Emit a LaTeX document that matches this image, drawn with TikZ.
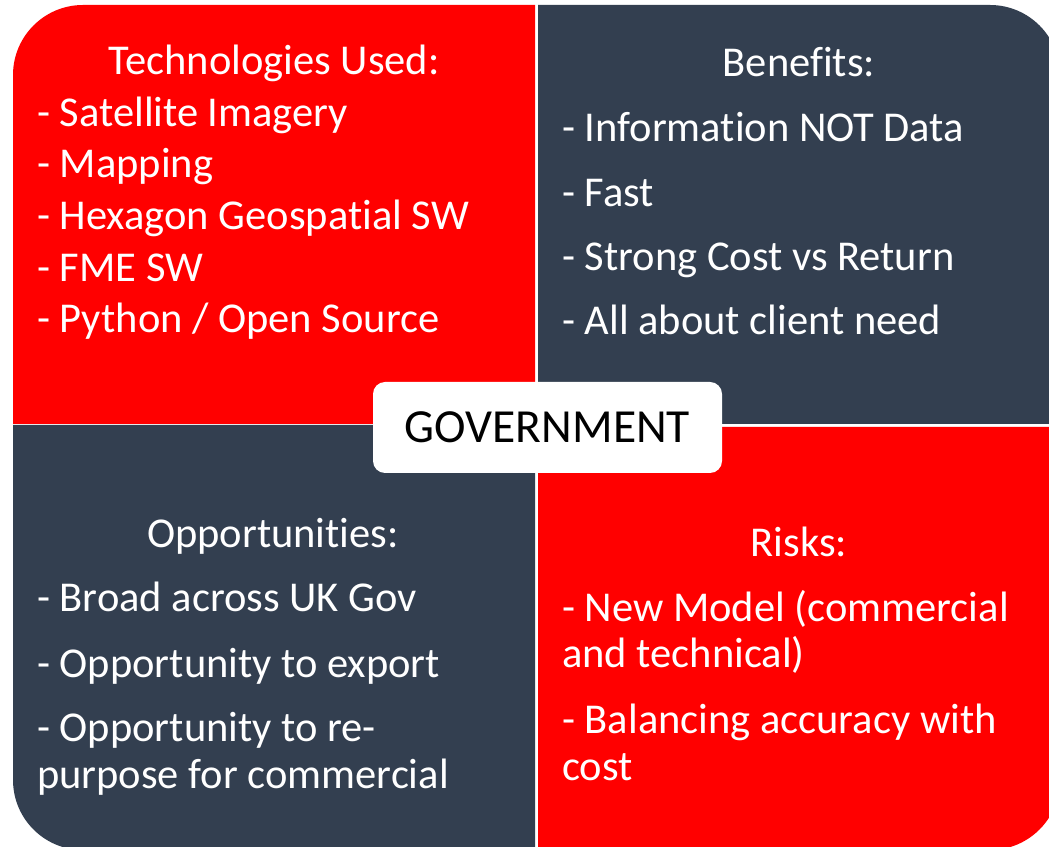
\documentclass[tikz,border=0pt]{standalone}
\usepackage{fontspec}
\setmainfont[Ligatures=NoCommon]{Carlito}
\definecolor{redq}{HTML}{FF0000}
\definecolor{darkq}{HTML}{333F50}
\begin{document}
\begin{tikzpicture}[x=1pt,y=1pt,
  txt/.style={inner sep=0pt, text=white, font=\fontsize{42.5}{50}\selectfont},
  item/.style={txt, anchor=base west},
  head/.style={txt, anchor=base}]
\useasboundingbox (0,0) rectangle (1049,846);
\clip (0,0) rectangle (1049,846);
% quadrants
\fill[redq] (13,422) -- (13,771) arc[start angle=180,end angle=90,radius=70] -- (535,841) -- (535,422) -- cycle;
\fill[darkq] (538,422) -- (538,841) -- (990,841) arc[start angle=90,end angle=0,radius=70] -- (1060,422) -- cycle;
\fill[darkq] (13,421) -- (535,421) -- (535,-4) -- (83,-4) arc[start angle=270,end angle=180,radius=70] -- cycle;
\fill[redq] (538,419) -- (1060,419) -- (1060,66) arc[start angle=0,end angle=-90,radius=70] -- (538,-4) -- cycle;
% technologies
\node[head] (th) at (274,771) {Technologies Used:};
\node[item] (t1) at (37,719) {- Satellite Imagery};
\node[item] (t2) at (37,668) {- Mapping};
\node[item] (t3) at (37,616) {- Hexagon Geospatial SW};
\node[item] (t4) at (37,564) {- FME SW};
\node[item] (t5) at (37,513) {- Python / Open Source};
% benefits
\node[head] (bh) at (799,769) {Benefits:};
\node[item] (b1) at (562,704) {- Information NOT Data};
\node[item] (b2) at (562,639) {- Fast};
\node[item] (b3) at (562,575) {- Strong Cost vs Return};
\node[item] (b4) at (562,511) {- All about client need};
% opportunities
\node[head] (oh) at (273,298) {Opportunities:};
\node[item] (o1) at (37,234) {- Broad across UK Gov};
\node[item] (o2) at (37,168) {- Opportunity to export};
\node[item] (o3) at (37,104) {- Opportunity to re-};
\node[item] (o4) at (37,58) {purpose for commercial};
% risks
\node[head] (rh) at (799,289) {Risks:};
\node[item] (r1) at (562,224) {- New Model (commercial};
\node[item] (r2) at (562,178) {and technical)};
\node[item] (r3) at (562,113) {- Balancing accuracy with};
\node[item] (r4) at (562,66) {cost};
% centre
\node[fill=white, rounded corners=12pt, minimum width=349pt, minimum height=91pt, inner sep=0pt,
  font=\fontsize{47.5}{56}\selectfont, text=black] (gov) at (547.5,418.5) {GOVERNMENT};
\end{tikzpicture}
\end{document}
